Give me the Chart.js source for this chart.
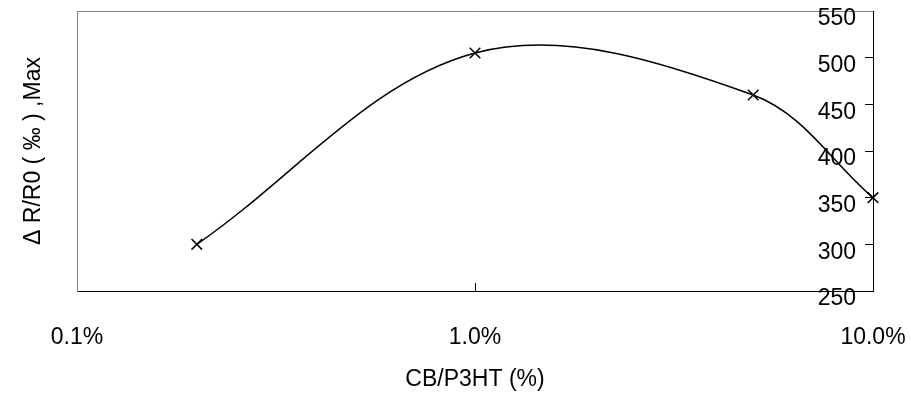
<!DOCTYPE html>
<html>
<head>
<meta charset="utf-8">
<script src="https://cdn.jsdelivr.net/npm/chart.js@4"></script>
<style>
  html, body { margin: 0; padding: 0; background: #ffffff; }
  canvas { display: block; }
</style>
</head>
<body>
<canvas id="c" width="911" height="401"></canvas>
<script>
// ---- data ----
const concentrations = [0.2, 1, 5, 10];          // CB/P3HT (%)
const responseMax = [300, 505, 460, 350];        // ΔR/R0 (‰), Max
const xTickValues = [0.1, 1, 10];
const yTickValues = [250, 300, 350, 400, 450, 500, 550];
const xTitle = 'CB/P3HT (%)';
const yTitle = 'Δ R/R0 ( ‰ ) ,Max';

const FONT = '"Liberation Sans", Arial, sans-serif';
Chart.defaults.font.family = FONT;
Chart.defaults.color = '#000000';

const points = concentrations.map((x, i) => ({ x: x, y: responseMax[i] }));

new Chart(document.getElementById('c'), {
  type: 'line',
  data: {
    datasets: [{
      data: points,
      borderColor: '#000000',
      borderWidth: 1.5,
      tension: 0.35,
      fill: false,
      clip: false,
      pointStyle: 'crossRot',
      pointRadius: 7.5,
      pointBorderWidth: 1.5,
      pointBorderColor: '#000000',
      pointBackgroundColor: '#000000'
    }]
  },
  options: {
    responsive: false,
    animation: false,
    layout: { padding: { top: 11, right: 38, bottom: 0, left: 0 } },
    plugins: { legend: { display: false }, tooltip: { enabled: false } },
    scales: {
      x: {
        type: 'logarithmic',
        position: 'bottom',
        min: 0.1,
        max: 10,
        afterBuildTicks: (s) => { s.ticks = xTickValues.map(v => ({ value: v })); },
        afterFit: (s) => { s.height = 110; s.paddingLeft = 0; s.paddingRight = 0; },
        ticks: {
          font: { size: 23 },
          color: '#000000',
          padding: 41,
          maxRotation: 0,
          autoSkip: false,
          callback: (v) => Number(v).toFixed(1) + '%'
        },
        grid: { drawOnChartArea: false, drawTicks: true, tickLength: -8, color: '#000000', lineWidth: 1 },
        border: { display: true, color: '#000000', width: 1 },
        title: { display: true, text: xTitle, font: { size: 23 }, color: '#000000', padding: { top: 0, bottom: 8 } }
      },
      xTop: {
        type: 'linear',
        axis: 'x',
        position: 'top',
        min: 0,
        max: 1,
        ticks: { display: false },
        grid: { drawOnChartArea: false, drawTicks: false },
        border: { display: true, color: '#808080', width: 1 },
        afterFit: (s) => { s.height = 0; }
      },
      y: {
        type: 'linear',
        position: 'right',
        min: 250,
        max: 550,
        afterBuildTicks: (s) => { s.ticks = yTickValues.map(v => ({ value: v })); },
        afterFit: (s) => { s.width = 0; s.paddingTop = 0; s.paddingBottom = 0; },
        ticks: {
          font: { size: 23 },
          color: '#000000',
          mirror: true,
          padding: -17,
          labelOffset: 8
        },
        grid: { drawOnChartArea: false, drawTicks: true, tickLength: -8, color: '#000000', lineWidth: 1 },
        border: { display: true, color: '#000000', width: 1 }
      },
      yLeft: {
        type: 'linear',
        axis: 'y',
        position: 'left',
        min: 250,
        max: 550,
        ticks: { display: false },
        grid: { drawOnChartArea: false, drawTicks: false },
        border: { display: true, color: '#808080', width: 1 },
        afterFit: (s) => { s.width = 77; },
        title: { display: true, text: yTitle, font: { size: 23 }, color: '#000000', padding: { top: 20, bottom: 29 } }
      }
    }
  }
});
</script>
</body>
</html>
